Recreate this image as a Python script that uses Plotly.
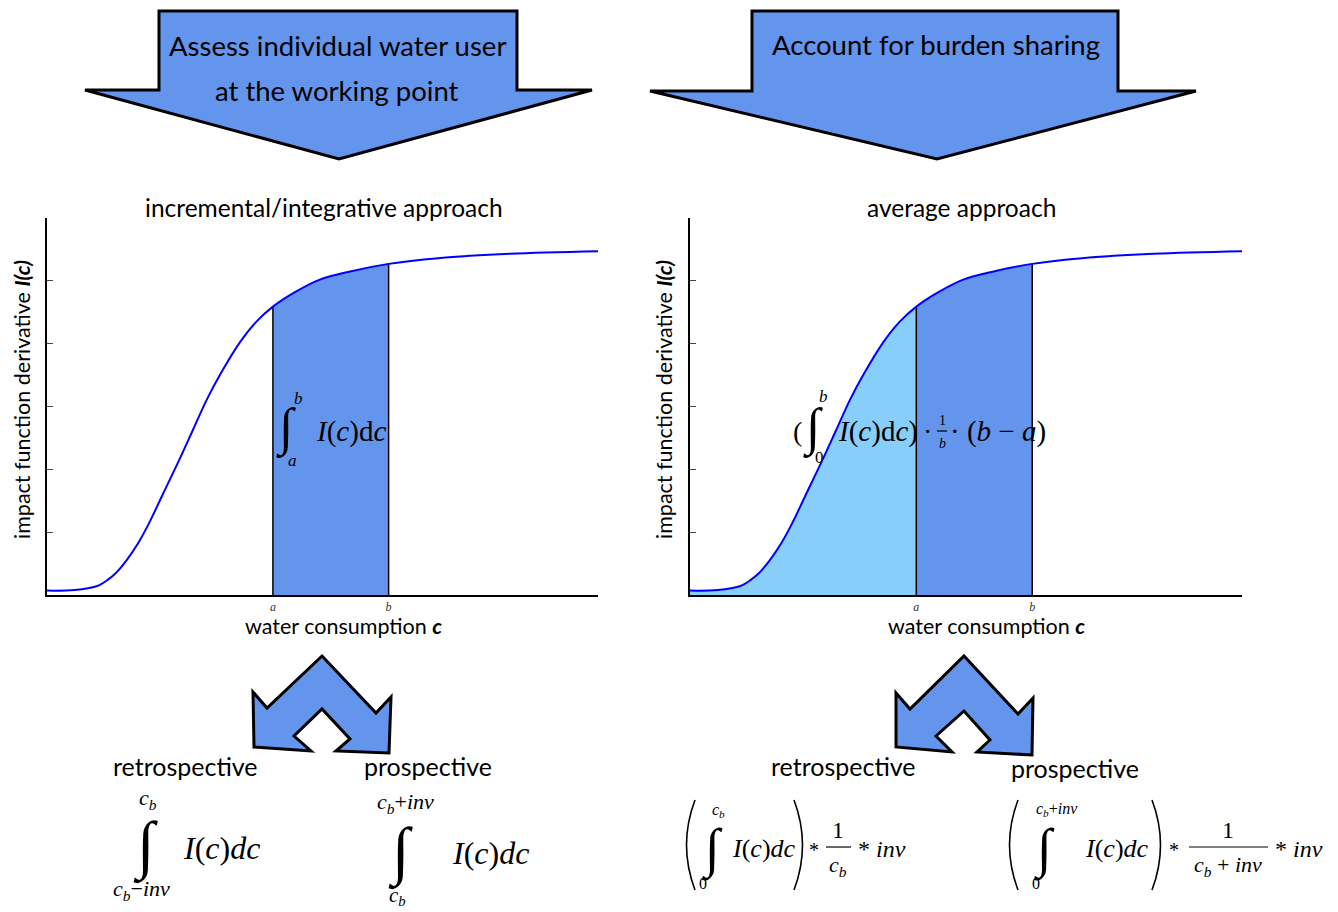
import plotly.graph_objects as go

# ---------------- data ----------------
c_vals = [0, 0.5, 0.9, 1.1, 1.25, 1.45, 1.65, 1.85, 2.1, 2.4, 2.65, 2.9, 3.15,
          3.5, 3.8, 4.1, 4.5, 4.95, 5.5, 6.2, 7.1, 8.4, 10]
I_vals = [0.07, 0.08, 0.14, 0.24, 0.35, 0.56, 0.82, 1.14, 1.6, 2.15, 2.63, 3.11,
          3.52, 4.02, 4.35, 4.59, 4.82, 5.02, 5.15, 5.27, 5.36, 5.43, 5.47]
A_POS = 4.1
B_POS = 6.2
x_tick_vals = [A_POS, B_POS]
x_tick_text = ["<i>a</i>", "<i>b</i>"]
y_tick_vals = [1, 2, 3, 4, 5, 6]
titles = ["incremental/integrative approach", "average approach"]

W, H = 1338, 912
BLUE_FILL = "#6495ED"
LIGHT_FILL = "#87CEFA"


def px(x):
    return x / W


def py(y):
    return 1 - y / H


ia = c_vals.index(A_POS)
ib = c_vals.index(B_POS)

fig = go.Figure()

for k, (xa, ya) in enumerate([("x", "y"), ("x2", "y2")]):
    if k == 1:
        fig.add_trace(go.Scatter(x=c_vals[:ia + 1], y=I_vals[:ia + 1], mode="lines",
                                 line=dict(width=0, shape="spline"), fill="tozeroy",
                                 fillcolor=LIGHT_FILL, xaxis=xa, yaxis=ya,
                                 hoverinfo="skip", showlegend=False))
    fig.add_trace(go.Scatter(x=c_vals[ia:ib + 1], y=I_vals[ia:ib + 1], mode="lines",
                             line=dict(width=0, shape="spline"), fill="tozeroy",
                             fillcolor=BLUE_FILL, xaxis=xa, yaxis=ya,
                             hoverinfo="skip", showlegend=False))
    for idx in (ia, ib):
        fig.add_trace(go.Scatter(x=[c_vals[idx], c_vals[idx]], y=[0, I_vals[idx]],
                                 mode="lines", line=dict(color="black", width=1.5),
                                 xaxis=xa, yaxis=ya, hoverinfo="skip", showlegend=False))
    fig.add_trace(go.Scatter(x=c_vals, y=I_vals, mode="lines",
                             line=dict(color="#0000FF", width=2, shape="spline"),
                             xaxis=xa, yaxis=ya, showlegend=False))

axis_common_x = dict(range=[0, 10], showgrid=False, zeroline=False, showline=True,
                     linecolor="black", linewidth=1.5, tickvals=x_tick_vals,
                     ticktext=x_tick_text, ticks="",
                     tickfont=dict(family="Liberation Serif", size=12, color="#333"),
                     fixedrange=True)
axis_common_y = dict(range=[0, 6], showgrid=False, zeroline=False, showline=True,
                     linecolor="black", linewidth=1.5, tickvals=y_tick_vals,
                     showticklabels=False, ticks="inside", ticklen=6, tickwidth=1,
                     tickcolor="#444", fixedrange=True)

fig.update_layout(
    width=W, height=H,
    margin=dict(l=0, r=0, t=0, b=0),
    paper_bgcolor="white", plot_bgcolor="white",
    xaxis=dict(domain=[px(47), px(598)], anchor="y", **axis_common_x),
    yaxis=dict(domain=[py(595), py(218)], anchor="x", **axis_common_y),
    xaxis2=dict(domain=[px(690), px(1242)], anchor="y2", **axis_common_x),
    yaxis2=dict(domain=[py(595), py(218)], anchor="x2", **axis_common_y),
    showlegend=False,
)

# ---------------- shapes (arrows) ----------------
def path(points):
    return "M" + " L".join(f"{px(x):.5f},{py(y):.5f}" for x, y in points) + " Z"


arrow_top_left = [(159, 11), (517, 11), (517, 90), (592, 90), (339, 159), (85, 90), (159, 90)]
arrow_top_right = [(752, 11), (1118, 11), (1118, 91), (1196, 91), (937, 159), (650, 91), (752, 91)]
dbl_left = [(322, 656), (376, 713), (391, 697), (389, 753), (336, 751), (350, 739),
            (322, 709), (294, 736), (311, 751), (254, 747), (253, 692), (267, 708)]
dbl_right = [(964, 656), (1018, 714), (1033, 698), (1032, 755), (977, 752), (990, 740),
             (964, 711), (936, 736), (952, 752), (896, 747), (896, 693), (910, 709)]

shapes = []
for pts in (arrow_top_left, arrow_top_right, dbl_left, dbl_right):
    shapes.append(dict(type="path", path=path(pts), xref="paper", yref="paper",
                       fillcolor=BLUE_FILL, line=dict(color="black", width=3), layer="above"))

# fraction bars
for x0, x1, y in [(826, 851, 847), (1189, 1268, 847), (937, 947, 431)]:
    shapes.append(dict(type="line", xref="paper", yref="paper", x0=px(x0), x1=px(x1),
                       y0=py(y), y1=py(y), line=dict(color="black", width=1.2), layer="above"))

# thin tall parentheses of the lower-right formulas
for x_end, x_ctrl in [(695, 678), (794, 811), (1018, 1001), (1152, 1169)]:
    d = (f"M{px(x_end):.5f},{py(800):.5f} Q{px(x_ctrl):.5f},{py(845):.5f} "
         f"{px(x_end):.5f},{py(890):.5f}")
    shapes.append(dict(type="path", path=d, xref="paper", yref="paper",
                       line=dict(color="black", width=1.6), layer="above"))
fig.update_layout(shapes=shapes)

# ---------------- text ----------------
SANS = "Lato"
SERIF = "Liberation Serif"
ann = []


def txt(x, y, s, size, family=SANS, xanchor="center", color="black", angle=0):
    ann.append(dict(x=px(x), y=py(y), xref="paper", yref="paper", text=s, showarrow=False,
                    xanchor=xanchor, yanchor="middle", textangle=angle,
                    font=dict(family=family, size=size, color=color)))


# arrow labels
txt(337, 46, "Assess individual water user", 27.5)
txt(337, 90, "at the working point", 27.5)
txt(936, 44, "Account for burden sharing", 27.5)

# chart titles
txt(324, 207, titles[0], 24.5)
txt(961, 207, titles[1], 24.5)

# axis labels
for x0 in (343, 986):
    txt(x0, 626, "water consumption <b><i>c</i></b>", 21.5)
for x0 in (22, 664):
    txt(x0, 400, "impact function derivative <b><i>I(c)</i></b>", 21.5, angle=-90)

# formula inside left chart
txt(286, 428, "∫", 52, SERIF)
txt(298, 398, "<i>b</i>", 17, SERIF)
txt(292, 460, "<i>a</i>", 17, SERIF)
txt(351, 432, "<i>I</i>(<i>c</i>)d<i>c</i>", 29, SERIF)

# formula inside right chart
txt(797, 432, "(", 28, SERIF)
txt(813, 428, "∫", 52, SERIF)
txt(823, 397, "<i>b</i>", 17, SERIF)
txt(819, 458, "0", 17, SERIF)
txt(878, 432, "<i>I</i>(<i>c</i>)d<i>c</i>)", 29, SERIF)
txt(927, 432, "·", 28, SERIF)
txt(942, 420, "1", 14, SERIF)
txt(942, 443, "<i>b</i>", 14, SERIF)
txt(998, 432, "· (<i>b</i> − <i>a</i>)", 29, SERIF)

# lower labels
txt(185, 766, "retrospective", 25)
txt(428, 766, "prospective", 25)
txt(843, 766, "retrospective", 25)
txt(1075, 768, "prospective", 25)

CB = "<i>c</i><sub><i>b</i></sub>"
IC = "<i>I</i>(<i>c</i>)<i>dc</i>"

# left lower formulas
txt(145, 846, "∫", 64, SERIF)
txt(148, 799, CB, 22, SERIF)
txt(141, 890, CB + "−<i>inv</i>", 22, SERIF)
txt(221, 848, IC, 32, SERIF)
txt(400, 852, "∫", 64, SERIF)
txt(405, 803, CB + "+<i>inv</i>", 22, SERIF)
txt(397, 896, CB, 21, SERIF)
txt(490, 853, IC, 32, SERIF)

# right lower formulas
txt(712, 849, "∫", 54, SERIF)
txt(718, 810, CB, 16, SERIF)
txt(703, 883, "0", 16, SERIF)
txt(764, 848, IC, 26, SERIF)
txt(814, 850, "*", 20, SERIF)
txt(838, 830, "1", 24, SERIF)
txt(838, 866, CB, 22, SERIF)
txt(882, 849, "* <i>inv</i>", 24, SERIF)

txt(1044, 849, "∫", 54, SERIF)
txt(1057, 809, CB + "+<i>inv</i>", 16, SERIF)
txt(1036, 883, "0", 16, SERIF)
txt(1117, 848, IC, 26, SERIF)
txt(1174, 850, "*", 20, SERIF)
txt(1228, 830, "1", 24, SERIF)
txt(1228, 866, CB + " + <i>inv</i>", 22, SERIF)
txt(1299, 849, "* <i>inv</i>", 24, SERIF)

fig.update_layout(annotations=ann)

fig.write_html("out.html", config={"displayModeBar": False},
               post_script="document.body.style.margin='0';document.body.style.overflow='hidden';")
